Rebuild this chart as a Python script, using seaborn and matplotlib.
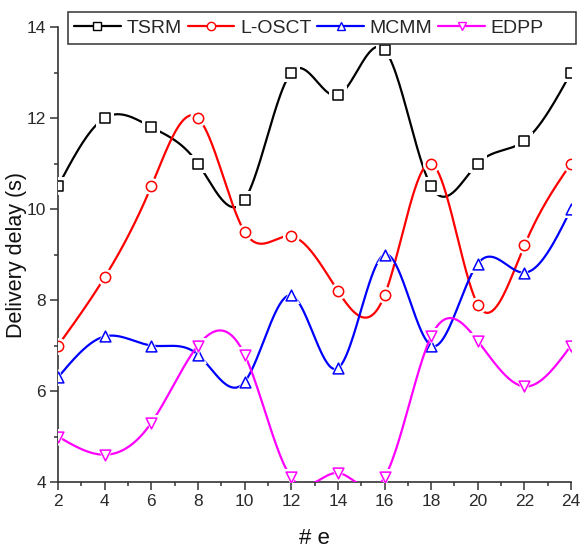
import numpy as np
import pandas as pd
import matplotlib
matplotlib.use("Agg")
import matplotlib.pyplot as plt
from matplotlib.patches import Rectangle
from matplotlib.lines import Line2D
from matplotlib.ticker import MultipleLocator
import seaborn as sns

# ---- data ----
x_vals = [2, 4, 6, 8, 10, 12, 14, 16, 18, 20, 22, 24]
tsrm = [10.5, 12.0, 11.8, 11.0, 10.2, 13.0, 12.5, 13.5, 10.5, 11.0, 11.5, 13.0]
losct = [7.0, 8.5, 10.5, 12.0, 9.5, 9.4, 8.2, 8.1, 11.0, 7.9, 9.2, 11.0]
mcmm = [6.3, 7.2, 7.0, 6.8, 6.2, 8.1, 6.5, 9.0, 7.0, 8.8, 8.6, 10.0]
edpp = [5.0, 4.6, 5.3, 7.0, 6.8, 4.1, 4.2, 4.1, 7.2, 7.1, 6.1, 7.0]
series_names = ["TSRM", "L-OSCT", "MCMM", "EDPP"]
x_ticks = [2, 4, 6, 8, 10, 12, 14, 16, 18, 20, 22, 24]
y_ticks = [4, 6, 8, 10, 12, 14]

colors = ["#000000", "#FF0000", "#0000FF", "#FF00FF"]
markers = ["s", "o", "^", "v"]


def natural_spline(x, y, num=500):
    x = np.asarray(x, float)
    y = np.asarray(y, float)
    n = len(x)
    h = np.diff(x)
    A = np.zeros((n, n))
    b = np.zeros(n)
    A[0, 0] = 1
    A[-1, -1] = 1
    for i in range(1, n - 1):
        A[i, i - 1] = h[i - 1]
        A[i, i] = 2 * (h[i - 1] + h[i])
        A[i, i + 1] = h[i]
        b[i] = 6 * ((y[i + 1] - y[i]) / h[i] - (y[i] - y[i - 1]) / h[i - 1])
    M = np.linalg.solve(A, b)
    xs = np.linspace(x[0], x[-1], num)
    idx = np.clip(np.searchsorted(x, xs) - 1, 0, n - 2)
    x0, x1 = x[idx], x[idx + 1]
    hh = x1 - x0
    S = (M[idx] * (x1 - xs) ** 3 / (6 * hh) + M[idx + 1] * (xs - x0) ** 3 / (6 * hh)
         + (y[idx] / hh - M[idx] * hh / 6) * (x1 - xs)
         + (y[idx + 1] / hh - M[idx + 1] * hh / 6) * (xs - x0))
    return xs, S


sns.set_theme(style="white")
plt.rcParams["font.family"] = ["Liberation Sans", "DejaVu Sans"]

fig = plt.figure(figsize=(5.82, 5.48), dpi=100)
ax = fig.add_axes([0.0997, 0.1204, 0.8815, 0.8303])

all_series = [tsrm, losct, mcmm, edpp]
for i, (name, vals) in enumerate(zip(series_names, all_series)):
    xs, ys = natural_spline(x_vals, vals)
    curve = pd.DataFrame({"x": xs, "y": ys})
    pts = pd.DataFrame({"x": x_vals, "y": vals})
    sns.lineplot(data=curve, x="x", y="y", ax=ax, color=colors[i], linewidth=1.6,
                 zorder=2 + 3 * i, sort=False)
    sns.scatterplot(data=pts, x="x", y="y", ax=ax, marker=markers[i], s=150,
                    color="white", linewidth=0, zorder=3 + 3 * i)
    sns.scatterplot(data=pts, x="x", y="y", ax=ax, marker=markers[i],
                    s=60 if markers[i] != "o" else 55,
                    color="white", edgecolor=colors[i], linewidth=1.1, zorder=4 + 3 * i)

ax.set_xlim(2, 24)
ax.set_ylim(4, 14)
ax.set_xticks(x_ticks)
ax.set_yticks(y_ticks)
ax.xaxis.set_minor_locator(MultipleLocator(1))
ax.yaxis.set_minor_locator(MultipleLocator(1))
ax.tick_params(axis="both", which="major", direction="out", length=5.5, width=1.1,
               color="#333333", labelsize=12.5, labelcolor="#2a2a2a", bottom=True, left=True,
               pad=3)
ax.tick_params(axis="both", which="minor", direction="out", length=3, width=1.1,
               color="#333333", bottom=True, left=True)
for s in ["top", "right"]:
    ax.spines[s].set_visible(False)
for s in ["left", "bottom"]:
    ax.spines[s].set_color("#333333")
    ax.spines[s].set_linewidth(1.2)
ax.set_facecolor("white")
ax.grid(False)

ax.set_ylabel("Delivery delay (s)", fontsize=15.5, color="#111111")
ax.yaxis.set_label_coords((16 - 58) / 513, 0.5)
ax.set_xlabel("# e", fontsize=16, color="#111111")
ax.xaxis.set_label_coords(0.5, (482 - 538) / 455)
ax.xaxis.label.set_verticalalignment("center")
ax.yaxis.label.set_verticalalignment("center")

# legend
handles = [Line2D([0], [0], color=c, marker=m, markersize=6, markerfacecolor="white",
                  markeredgecolor=c, markeredgewidth=1.0, linewidth=1.6)
           for c, m in zip(colors, markers)]
fig.patches.append(Rectangle((68 / 582, 1 - 44 / 548), (576 - 68) / 582, 32 / 548,
                             transform=fig.transFigure, facecolor="white",
                             edgecolor="#333333", linewidth=1.1, zorder=10))
leg = fig.legend(handles, series_names, loc="center left",
                 bbox_to_anchor=(74 / 582, 1 - 28 / 548), ncol=4, frameon=False,
                 fontsize=14, handlelength=2.4, handletextpad=0.3, columnspacing=0.3,
                 borderpad=0, borderaxespad=0)
leg.set_zorder(11)

fig.savefig("out.png", dpi=100, facecolor="white")
